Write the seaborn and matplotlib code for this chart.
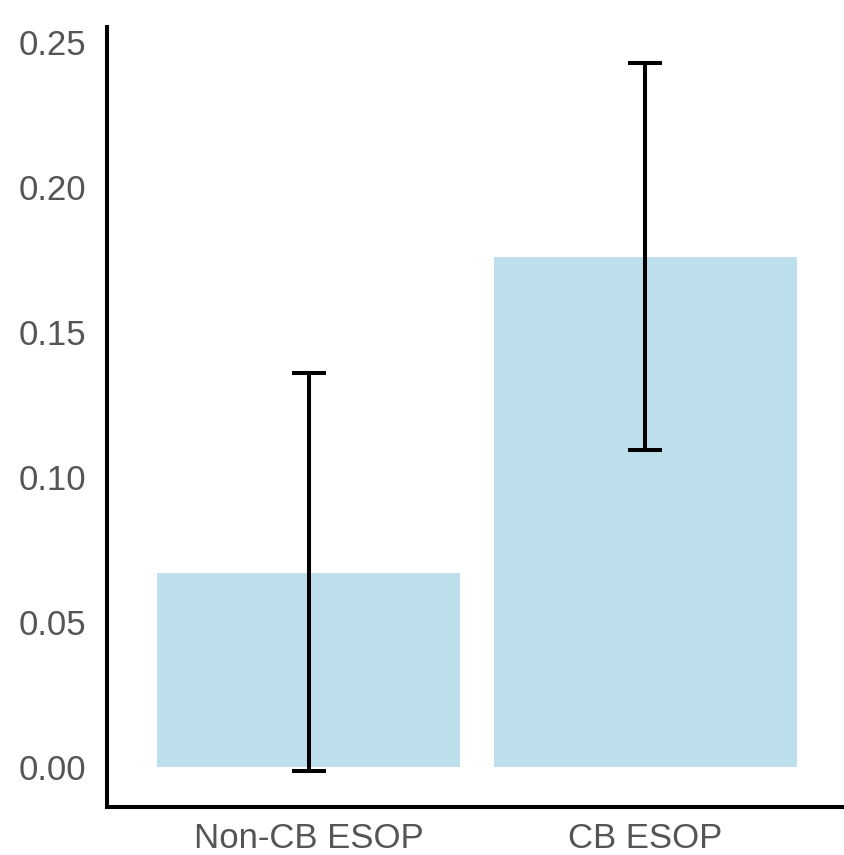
import matplotlib
matplotlib.use("Agg")
import matplotlib.pyplot as plt
import seaborn as sns
import pandas as pd
import numpy as np

categories = ["Non-CB ESOP", "CB ESOP"]
means = [0.0668, 0.1757]
err_low = [-0.0014, 0.1092]
err_high = [0.1358, 0.2426]

sns.set_theme(style="white")
plt.rcParams["font.family"] = ["Liberation Sans", "DejaVu Sans"]

df = pd.DataFrame({"group": categories, "value": means})

fig = plt.figure(figsize=(8.44, 8.55), dpi=100)
ax = fig.add_axes([107/844, 1-807/855, 1-107/844, (807-27)/855])

sns.barplot(data=df, x="group", y="value", color="#ADD8E6", alpha=0.8,
            saturation=1, width=0.9, ax=ax, errorbar=None, edgecolor="none")

m = np.array(means)
lo = m - np.array(err_low)
hi = np.array(err_high) - m
ax.errorbar(np.arange(len(categories)), m, yerr=[lo, hi], fmt="none",
            ecolor="black", elinewidth=2.9, capsize=12, capthick=2.9)

ax.set_xlim(-0.6, 1.59)
ax.set_ylim(-0.0138, 0.255)
ax.set_yticks([0.0, 0.05, 0.10, 0.15, 0.20, 0.25])
ax.set_yticklabels(["0.00", "0.05", "0.10", "0.15", "0.20", "0.25"])
ax.set_xlabel("")
ax.set_ylabel("")
for s in ["top", "right"]:
    ax.spines[s].set_visible(False)
for s in ["left", "bottom"]:
    ax.spines[s].set_color("black")
    ax.spines[s].set_linewidth(2.9)
ax.tick_params(axis="both", length=0, labelsize=25, labelcolor="#555555")
ax.tick_params(axis="y", pad=15)
ax.tick_params(axis="x", pad=11)

fig.savefig("out.png", dpi=100)
